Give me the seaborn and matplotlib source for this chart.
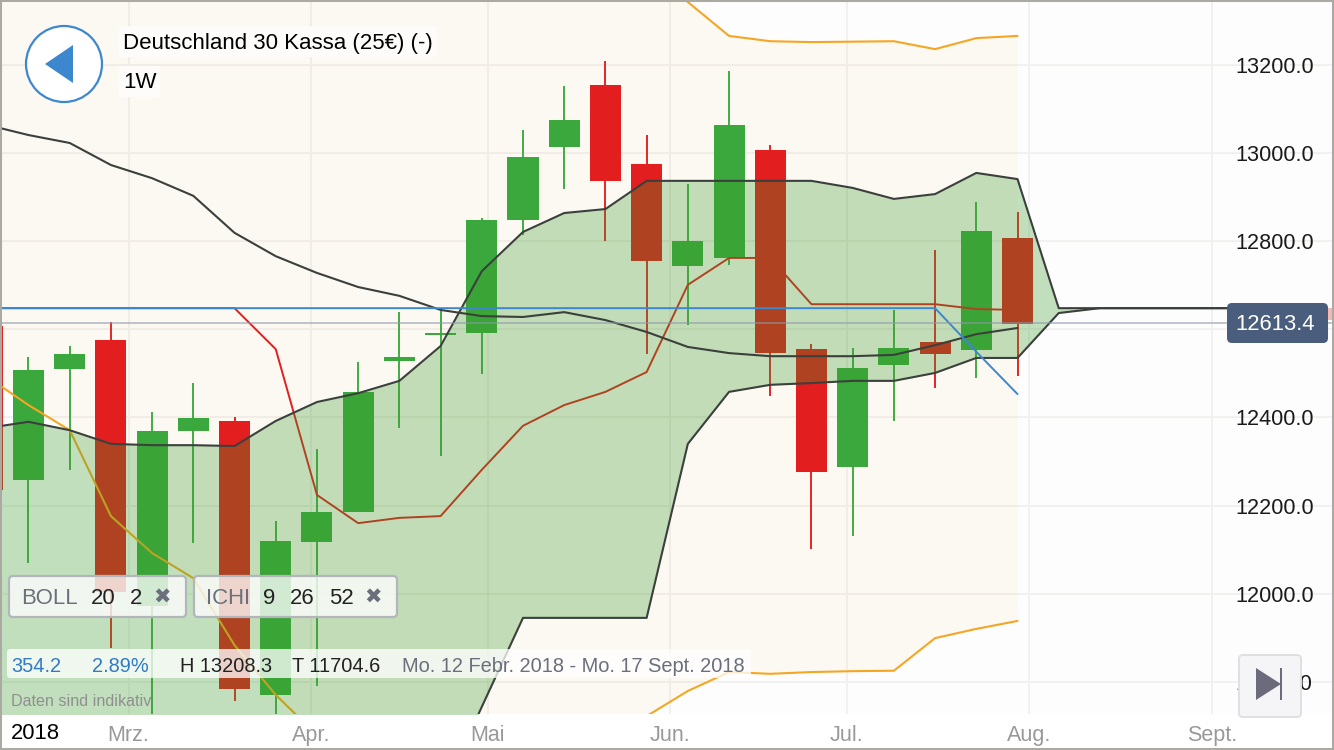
import matplotlib
matplotlib.use('Agg')
import matplotlib.pyplot as plt
import matplotlib.dates as mdates
from matplotlib.patches import Circle, FancyBboxPatch, Polygon, Rectangle
import numpy as np
import pandas as pd
import seaborn as sns

# weekly candles, first one (5 Feb) only just shows on the left edge
opens = [12607, 12258, 12510, 12576, 11972, 12369, 12392, 11770, 12117, 12185, 12528, 12587, 12592, 12848, 13014,
         13155, 12975, 12744, 12762, 13007, 12555, 12287, 12519, 12571, 12553, 12807]
closes = [12235, 12508, 12544, 12004, 12369, 12399, 11784, 12119, 12185, 12458, 12537, 12592, 12848, 12991, 13075,
          12937, 12755, 12800, 13064, 12546, 12276, 12512, 12558, 12544, 12823, 12612]
highs = [12650, 12537, 12562, 12617, 12412, 12478, 12401, 12165, 12328, 12526, 12639, 12648, 12853, 13052, 13152,
         13208, 13041, 12930, 13186, 13018, 12567, 12558, 12644, 12780, 12889, 12866]
lows = [12200, 12070, 12281, 11877, 11720, 12115, 11756, 11705, 11790, 12185, 12376, 12312, 12499, 12814, 12919,
        12800, 12544, 12610, 12746, 12449, 12101, 12131, 12392, 12467, 12489, 12494]

cloud_top = [12376, 12390, 12371, 12340, 12337, 12337, 12335, 12392, 12435, 12455, 12483, 12562, 12732, 12821, 12864,
             12873, 12937, 12937, 12937, 12937, 12937, 12921, 12896, 12907, 12955, 12941, 12648, 12648, 12648, 12648,
             12648, 12648, 12648]
cloud_bottom = [11480, 11490, 11490, 11500, 11500, 11510, 11510, 11520, 11520, 11530, 11530, 11541, 11743, 11945, 11945,
                11945, 11945, 12340, 12458, 12474, 12478, 12483, 12483, 12501, 12535, 12535, 12637, 12648, 12648, 12648,
                12648, 12648, 12648]
lagging = [13064, 13041, 13023, 12973, 12943, 12903, 12819, 12766, 12728, 12696, 12676, 12644, 12630, 12628, 12639,
           12621, 12594, 12560, 12546, 12539, 12539, 12539, 12542, 12564, 12589, 12603]
tenkan = [12648] * 24 + [12549, 12453]
kijun = [12648] * 7 + [12555, 12224, 12160, 12172, 12176, 12281, 12381, 12428, 12458, 12503, 12701, 12762, 12762,
                       12657, 12657, 12657, 12657, 12646, 12644]
boll_upper = [13480, 13470, 13460, 13450, 13440, 13440, 13440, 13430, 13420, 13420, 13420, 13430, 13440, 13450, 13460,
              13450, 13420, 13343, 13266, 13254, 13252, 13253, 13254, 13236, 13261, 13266]
boll_lower = [12492, 12428, 12371, 12176, 12092, 12035, 11883, 11770, 11679, 11600, 11560, 11530, 11520, 11520, 11530,
              11560, 11722, 11779, 11822, 11818, 11822, 11824, 11825, 11899, 11920, 11938]

last_price = 12613.4
y_ticks = [11800, 12000, 12200, 12400, 12600, 12800, 13000, 13200]
# 12600 sits behind the price tag, only its grid line shows
y_labels = ['11800.0', '12000.0', '12200.0', '12400.0', '', '12800.0', '13000.0', '13200.0']
month_ticks = ['2018-03-01', '2018-04-01', '2018-05-01', '2018-06-01', '2018-07-01', '2018-08-01', '2018-09-01']
month_labels = ['Mrz.', 'Apr.', 'Mai', 'Jun.', 'Jul.', 'Aug.', 'Sept.']

GREEN = '#3aa83c'
RED = '#e21e1e'
ORANGE = '#f5a623'
BLUE = '#3d87cf'
DARK = '#3b403d'
GRID = '#f1f1ef'

sns.set_theme(style='white')
plt.rcParams['font.family'] = ['Liberation Sans', 'DejaVu Sans']

dates = pd.date_range('2018-02-05', periods=33, freq='7D')
candles = pd.DataFrame({'date': dates[:26], 'open': opens, 'close': closes, 'high': highs, 'low': lows})
candles['color'] = np.where(candles['close'] >= candles['open'], GREEN, RED)

fig = plt.figure(figsize=(13.34, 7.5), dpi=100, facecolor='white')
ax = fig.add_axes([0, 36 / 750, 1, 714 / 750], facecolor='#fdfdfd')

# bollinger band behind everything
ax.fill_between(dates[:26], boll_lower, boll_upper, color=ORANGE, alpha=0.045, lw=0, zorder=1)

ax.vlines(candles['date'], candles['low'], candles['high'], colors=candles['color'], lw=1.35, zorder=2)
ax.bar(candles['date'], (candles['close'] - candles['open']).abs(), bottom=candles[['open', 'close']].min(axis=1),
       width=5.27, color=candles['color'], lw=0, zorder=2)

sns.lineplot(x=dates[:26], y=boll_upper, color=ORANGE, lw=1.5, ax=ax, zorder=2.5)
sns.lineplot(x=dates[:26], y=boll_lower, color=ORANGE, lw=1.5, ax=ax, zorder=2.5)
sns.lineplot(x=dates[:26], y=kijun, color=RED, lw=1.4, ax=ax, zorder=2.5)

# the cloud sits over the candles, that is why red turns brown inside it
ax.fill_between(dates, cloud_bottom, cloud_top, color='#3a9b2a', alpha=0.3, lw=0, zorder=3)

sns.lineplot(x=dates, y=cloud_top, color=DARK, lw=1.5, ax=ax, zorder=4)
sns.lineplot(x=dates, y=cloud_bottom, color=DARK, lw=1.5, ax=ax, zorder=4)
sns.lineplot(x=dates[:26], y=lagging, color=DARK, lw=1.5, ax=ax, zorder=4)
sns.lineplot(x=dates[:26], y=tenkan, color=BLUE, lw=1.4, ax=ax, zorder=4)
ax.axhline(last_price, color='#8e99aa', lw=1.3, alpha=0.6, zorder=4)

ax.set_xlim(pd.Timestamp('2018-02-12') - pd.Timedelta(days=4.84), pd.Timestamp('2018-02-12') + pd.Timedelta(days=221.76))
ax.set_ylim(13200 - 2.27 * 649, 13200 + 2.27 * 65)
ax.set_xlabel('')
ax.set_ylabel('')
for spine in ax.spines.values():
    spine.set_visible(False)

ax.yaxis.tick_right()
ax.set_yticks(y_ticks)
ax.set_yticklabels(y_labels, fontsize=15.6, color='#1a1a1a')
ax.tick_params(axis='y', length=0, pad=-71)
ax.set_xticks(mdates.date2num(pd.to_datetime(month_ticks)))
ax.set_xticklabels(month_labels, fontsize=15.5, color='#999999')
ax.tick_params(axis='x', length=0, pad=8)
ax.grid(True, color=GRID, lw=1.4, zorder=0)
ax.set_axisbelow(True)

# app controls on top of the chart, in screen pixels
ui = fig.add_axes([0, 0, 1, 1], facecolor='none')
ui.set_xlim(0, 1334)
ui.set_ylim(750, 0)
ui.axis('off')


def box(x0, y0, x1, y1, face, edge='none', lw=0, r=4):
    ui.add_patch(FancyBboxPatch((x0 + r, y0 + r), x1 - x0 - 2 * r, y1 - y0 - 2 * r, boxstyle='round,pad=%d' % r,
                                fc=face, ec=edge, lw=lw))


def label(x, y, s, color='#222222', size=14.4, **kw):
    ui.text(x, y, s, color=color, fontsize=size, va='center', **kw)


# back button
ui.add_patch(Circle((64, 64), 38, fc='white', ec=BLUE, lw=1.6))
ui.add_patch(Polygon([(45, 64), (73, 45), (73, 83)], fc=BLUE, ec='none'))

box(119, 26, 437, 57, '#fdfcfa', r=2)
box(119, 66, 160, 97, '#fdfcfa', r=2)
label(123, 43, 'Deutschland 30 Kassa (25€) (-)', color='black', size=16)
label(123, 83, '1W', color='black', size=16)

# indicator chips
box(9, 576, 186, 617, (1, 1, 1, 0.78), edge='#b2b5b9', lw=1.6)
box(194, 576, 397, 617, (1, 1, 1, 0.78), edge='#b2b5b9', lw=1.6)
label(21, 598, 'BOLL', color='#6b6f7b', size=15.9)
label(91, 598, '20', size=15.9)
label(130, 598, '2', size=15.9)
label(153, 598, '✖', color='#6b6f7b', size=15, family='DejaVu Sans')
label(206, 598, 'ICHI', color='#6b6f7b', size=15.9)
label(263, 598, '9', size=15.9)
label(290, 598, '26', size=15.9)
label(329, 598, '52', size=15.9)
label(364, 598, '✖', color='#6b6f7b', size=15, family='DejaVu Sans')

# info strip
box(7, 649, 751, 678, (1, 1, 1, 0.76), r=3)
label(11, 666, '354.2', color='#2f7bc4')
label(92, 666, '2.89%', color='#2f7bc4')
label(180, 666, 'H 13208.3')
label(292, 666, 'T 11704.6')
label(402, 666, 'Mo. 12 Febr. 2018 - Mo. 17 Sept. 2018', color='#6b6f7b')
label(11, 701, 'Daten sind indikativ', color='#8f8f8f', size=11.6)

label(11, 733.5, '2018', color='black', size=15.8)

# last price tag and the bit of pink behind it
ui.add_patch(Rectangle((1326, 308), 6, 12, fc='#f4b8b5', ec='none'))
box(1227, 303, 1328, 343, '#4a5d7c', r=5)
label(1275.5, 324, '%.1f' % last_price, color='white', size=15.8, ha='center')

# skip to end button
box(1239, 655, 1301, 717, '#f5f5f7', edge='#e0e0e4', lw=1.4, r=4)
ui.add_patch(Polygon([(1256, 668), (1256, 700), (1281, 684)], fc='#6b6b7b', ec='none'))
ui.add_patch(Rectangle((1280, 668), 2.4, 32, fc='#6b6b7b', ec='none'))

# grey frame of the screenshot
fig.add_artist(Rectangle((0, 0), 1, 1, transform=fig.transFigure, fc='none', ec='#aaa9a2', lw=2.9))

fig.savefig('out.png', dpi=100)
